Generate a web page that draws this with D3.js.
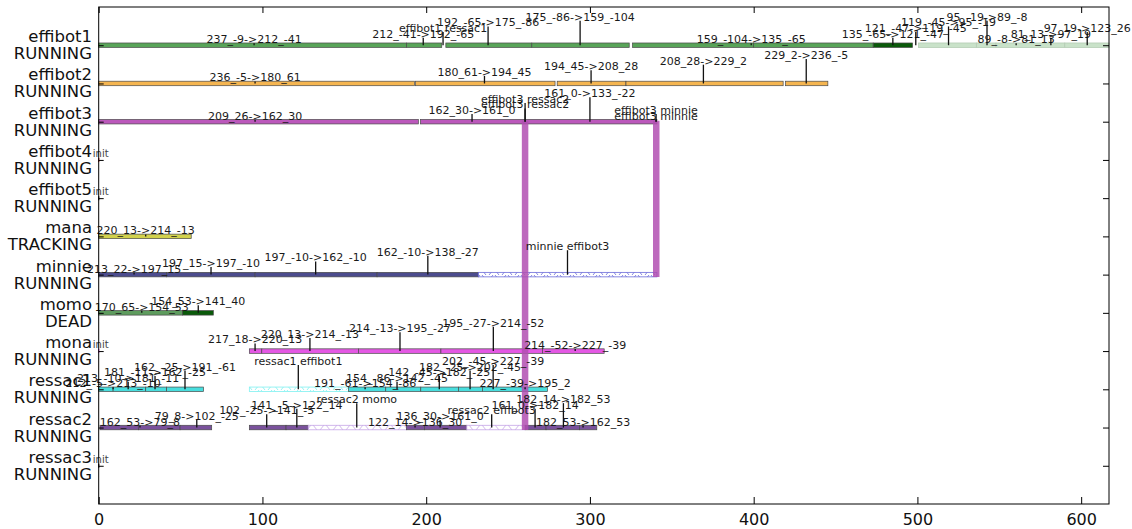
<!DOCTYPE html>
<html>
<head>
<meta charset="utf-8">
<script src="https://cdnjs.cloudflare.com/ajax/libs/d3/7.8.5/d3.min.js"></script>
<style>
  body { margin: 0; background: #fff; }
  text { font-family: "DejaVu Sans", sans-serif; }
</style>
</head>
<body>
<div id="chart"></div>
<script>
// robots (one row each) and their state
const robots = ["effibot1", "effibot2", "effibot3", "effibot4", "effibot5", "mana",
  "minnie", "momo", "mona", "ressac1", "ressac2", "ressac3"];
const states = ["RUNNING", "RUNNING", "RUNNING", "RUNNING", "RUNNING", "TRACKING",
  "RUNNING", "DEAD", "RUNNING", "RUNNING", "RUNNING", "RUNNING"];
const xTicks = [0, 100, 200, 300, 400, 500, 600];

// segments: [start, end, kind]
const effibot1Segs = [[0, 188, "solid"], [188, 209.5, "solid"], [212, 264.5, "solid"],
  [264.5, 324, "solid"], [326, 400, "solid"], [400, 473, "solid"], [473, 497, "dark"],
  [500.6, 536, "light"], [536, 548, "light"], [548, 590, "light"], [590, 617, "light"]];
const effibot2Segs = [[0, 192.8, "solid"], [193.5, 278.7, "solid"], [280, 322, "solid"],
  [322, 418, "solid"], [419.5, 445.3, "solid"]];
const effibot3Segs = [[0, 195.2, "solid"], [196.5, 340.9, "solid"]];
const manaSegs = [[0, 56.5, "solid"]];
const minnieSegs = [[0, 41.5, "solid"], [41.5, 95.5, "solid"], [95.5, 170, "solid"],
  [170, 231.9, "solid"], [231.9, 340.9, "hatch"]];
const momoSegs = [[0, 51.2, "solid"], [51.2, 70, "dark"]];
const monaSegs = [[92, 99.6, "solid"], [99.6, 158.6, "solid"], [158.6, 209, "solid"],
  [209, 271, "solid"], [271, 308.7, "solid"]];
const ressac1Segs = [[0, 8.8, "solid"], [8.8, 28.7, "solid"], [28.7, 41.5, "solid"],
  [41.5, 64, "solid"], [92, 152.5, "hatch"], [152.5, 175.3, "solid"], [175.3, 196.7, "solid"],
  [196.7, 219.7, "solid"], [219.7, 234.3, "solid"], [234.3, 274, "solid"]];
const ressac2Segs = [[0.8, 24.2, "solid"], [24.2, 49.7, "solid"], [49.7, 69, "solid"],
  [92, 114.4, "solid"], [114.4, 128, "solid"], [128, 188, "hatch"], [188, 198.9, "solid"],
  [198.9, 224.8, "solid"], [224.8, 260.4, "hatch"], [260.4, 273.2, "solid"],
  [273.2, 293.6, "solid"], [293.6, 304.2, "solid"]];

// annotations: [x, text]
const effibot1Notes = [[94.9, "237_-9->212_-41"], [198.2, "212_-41->192_-65"],
  [210.3, "effibot1 ressac1"], [237.8, "192_-65->175_-86"], [294, "175_-86->159_-104"],
  [398.5, "159_-104->135_-65"], [485, "135_-65->121_-47"], [499, "121_-47->119_-45"],
  [519, "119_-45->95_-19"], [542.5, "95_-19->89_-8"], [560.3, "89_-8->81_13"],
  [581.5, "81_13->97_19"], [603.7, "97_19->123_26"]];
const effibot2Notes = [[95.5, "236_-5->180_61"], [235.6, "180_61->194_45"],
  [300.7, "194_45->208_28"], [369.3, "208_28->229_2"], [432.1, "229_2->236_-5"]];
const effibot3Notes = [[95.5, "209_26->162_30"], [228, "162_30->161_0"],
  [260.4, "effibot3 ressac2"], [260.4, "effibot3 ressac2"], [300, "161_0->133_-22"],
  [340.4, "effibot3 minnie"], [340.4, "effibot3 minnie"]];
const effibot4Notes = [[0, "init"]];
const effibot5Notes = [[0, "init"]];
const manaNotes = [[28.7, "220_13->214_-13"]];
const minnieNotes = [[21.6, "213_22->197_15"], [68.6, "197_15->197_-10"],
  [132.5, "197_-10->162_-10"], [201, "162_-10->138_-27"], [286.3, "minnie effibot3"]];
const momoNotes = [[26.3, "170_65->154_53"], [60.8, "154_53->141_40"]];
const monaNotes = [[0, "init"], [95.5, "217_18->220_13"], [129, "220_13->214_-13"],
  [184, "214_-13->195_-27"], [241, "195_-27->214_-52"], [291, "214_-52->227_-39"]];
const ressac1Notes = [[8.8, "212_-5->213_-10"], [18, "213_-10->181_-11"],
  [34.4, "181_-11->162_-25"], [52.7, "162_-25->191_-61"], [121.9, "ressac1 effibot1"],
  [162.7, "191_-61->154_-86"], [182.2, "154_-86->142_-45"], [208, "142_-45->182_-25"],
  [226.8, "182_-25->202_-45"], [240.9, "202_-45->227_-39"], [260.4, "227_-39->195_2"]];
const ressac2Notes = [[25.2, "162_53->79_8"], [59.9, "79_8->102_-25"],
  [102.6, "102_-25->141_-5"], [121, "141_-5->122_14"], [157.6, "ressac2 momo"],
  [193.2, "122_14->136_30"], [208.5, "136_30->161_0"], [240, "ressac2 effibot3"],
  [266.5, "161_0->182_14"], [283.8, "182_14->182_53"], [295.8, "182_53->162_53"]];
const ressac3Notes = [[0, "init"]];

// interaction links: [x, from robot, to robot]
const links = [[260.4, "effibot3", "ressac2"], [340.5, "effibot3", "minnie"]];

const segsByRobot = {
  effibot1: effibot1Segs, effibot2: effibot2Segs, effibot3: effibot3Segs,
  effibot4: [], effibot5: [], mana: manaSegs, minnie: minnieSegs, momo: momoSegs,
  mona: monaSegs, ressac1: ressac1Segs, ressac2: ressac2Segs, ressac3: []
};
const notesByRobot = {
  effibot1: effibot1Notes, effibot2: effibot2Notes, effibot3: effibot3Notes,
  effibot4: effibot4Notes, effibot5: effibot5Notes, mana: manaNotes, minnie: minnieNotes,
  momo: momoNotes, mona: monaNotes, ressac1: ressac1Notes, ressac2: ressac2Notes,
  ressac3: ressac3Notes
};

const colors = {
  effibot1: "#58a458", effibot2: "#f5b550", effibot3: "#bb58bb", effibot4: "#d03030",
  effibot5: "#222", mana: "#d2d24c", minnie: "#4c4c8e", momo: "#5e9c5e",
  mona: "#e458e4", ressac1: "#48dede", ressac2: "#7a519c", ressac3: "#222"
};
const darkColor = "#0a5a0a";
const lightColor = "#c9e2c9";
const hatchColors = { minnie: "#6a6ad8", ressac1: "#7ff0f0", ressac2: "#c6a6e6" };

const W = 1132, H = 529;
const svg = d3.select("#chart").append("svg").attr("width", W).attr("height", H);

const x = d3.scaleLinear().domain([0, 617]).range([98.7, 1109]);
const y = d3.scaleLinear().domain([0, 13]).range([7, 504]);
const rowY = (r) => y(robots.indexOf(r) + 1);

// hatch patterns
const defs = svg.append("defs");
Object.entries(hatchColors).forEach(([r, c]) => {
  const p = defs.append("pattern").attr("id", "hatch-" + r)
    .attr("patternUnits", "userSpaceOnUse").attr("width", 13).attr("height", 5);
  p.append("rect").attr("width", 13).attr("height", 5).attr("fill", "#fff");
  p.append("path").attr("d", "M1,0 L5,5 M12,0 L8,5")
    .attr("stroke", c).attr("stroke-width", 0.8).attr("fill", "none");
});

// segment bars
const barH = 4.5;
robots.forEach((r) => {
  const cy = rowY(r);
  svg.append("g").selectAll("rect").data(segsByRobot[r]).join("rect")
    .attr("x", (d) => x(d[0]))
    .attr("y", cy - barH / 2)
    .attr("width", (d) => x(d[1]) - x(d[0]))
    .attr("height", barH)
    .attr("fill", (d) => d[2] === "hatch" ? `url(#hatch-${r})`
      : d[2] === "dark" ? darkColor : d[2] === "light" ? lightColor : colors[r])
    .attr("stroke", (d) => d[2] === "hatch" ? hatchColors[r]
      : d[2] === "light" ? "#b5ccb5" : "#4a4a4a")
    .attr("stroke-width", (d) => d[2] === "solid" || d[2] === "dark" ? 0.7 : 0.8);
});

// links
svg.append("g").selectAll("line").data(links).join("line")
  .attr("x1", (d) => x(d[0])).attr("x2", (d) => x(d[0]))
  .attr("y1", (d) => rowY(d[1]) - 1)
  .attr("y2", (d) => rowY(d[2]) + 2.5)
  .attr("stroke", "#b24fb2").attr("stroke-opacity", 0.85).attr("stroke-width", 6.5);

// annotations
robots.forEach((r) => {
  const cy = rowY(r);
  const g = svg.append("g");
  notesByRobot[r].forEach((d, i) => {
    const lift = 2 + (i % 5) * 5.6;
    const isInit = d[1] === "init";
    g.append("line")
      .attr("x1", x(d[0])).attr("x2", x(d[0]))
      .attr("y1", cy + (isInit ? 2 : 0)).attr("y2", cy - lift)
      .attr("stroke", isInit ? colors[r] : "#111").attr("stroke-width", 1.3);
    g.append("text")
      .attr("x", x(d[0]) + (isInit ? 2 : 0)).attr("y", cy - lift - (isInit ? 1 : 0))
      .attr("text-anchor", "middle")
      .attr("font-size", isInit ? 10 : 11)
      .attr("fill", isInit ? "#444" : "#1a1a1a")
      .text(d[1]);
  });
});

// frame
svg.append("rect").attr("x", x(0)).attr("y", y(0))
  .attr("width", x(617) - x(0)).attr("height", y(13) - y(0))
  .attr("fill", "none").attr("stroke", "#000").attr("stroke-width", 1);

// x axes (ticks inward)
const xb = svg.append("g").attr("transform", `translate(0,${y(13)})`)
  .call(d3.axisBottom(x).tickValues(xTicks).tickSize(-7).tickPadding(10).tickFormat(d3.format("d")));
xb.select(".domain").remove();
xb.selectAll("text").attr("font-size", 16).attr("font-family", "DejaVu Sans").attr("fill", "#111");
const xt = svg.append("g").attr("transform", `translate(0,${y(0)})`)
  .call(d3.axisTop(x).tickValues(xTicks).tickSize(-6).tickFormat(""));
xt.select(".domain").remove();

// y ticks left/right inward
const rowVals = robots.map((r, i) => i + 1);
const yl = svg.append("g").attr("transform", `translate(${x(0)},0)`)
  .call(d3.axisLeft(y).tickValues(rowVals).tickSize(-5).tickFormat(""));
yl.select(".domain").remove();
const yr = svg.append("g").attr("transform", `translate(${x(617)},0)`)
  .call(d3.axisRight(y).tickValues(rowVals).tickSize(-6).tickFormat(""));
yr.select(".domain").remove();

// row labels
robots.forEach((r, i) => {
  const t = svg.append("text").attr("text-anchor", "end").attr("font-size", 16.5).attr("fill", "#111");
  t.append("tspan").attr("x", 92).attr("y", rowY(r) - 3).text(r);
  t.append("tspan").attr("x", 92).attr("y", rowY(r) + 14).text(states[i]);
});
</script>
</body>
</html>
